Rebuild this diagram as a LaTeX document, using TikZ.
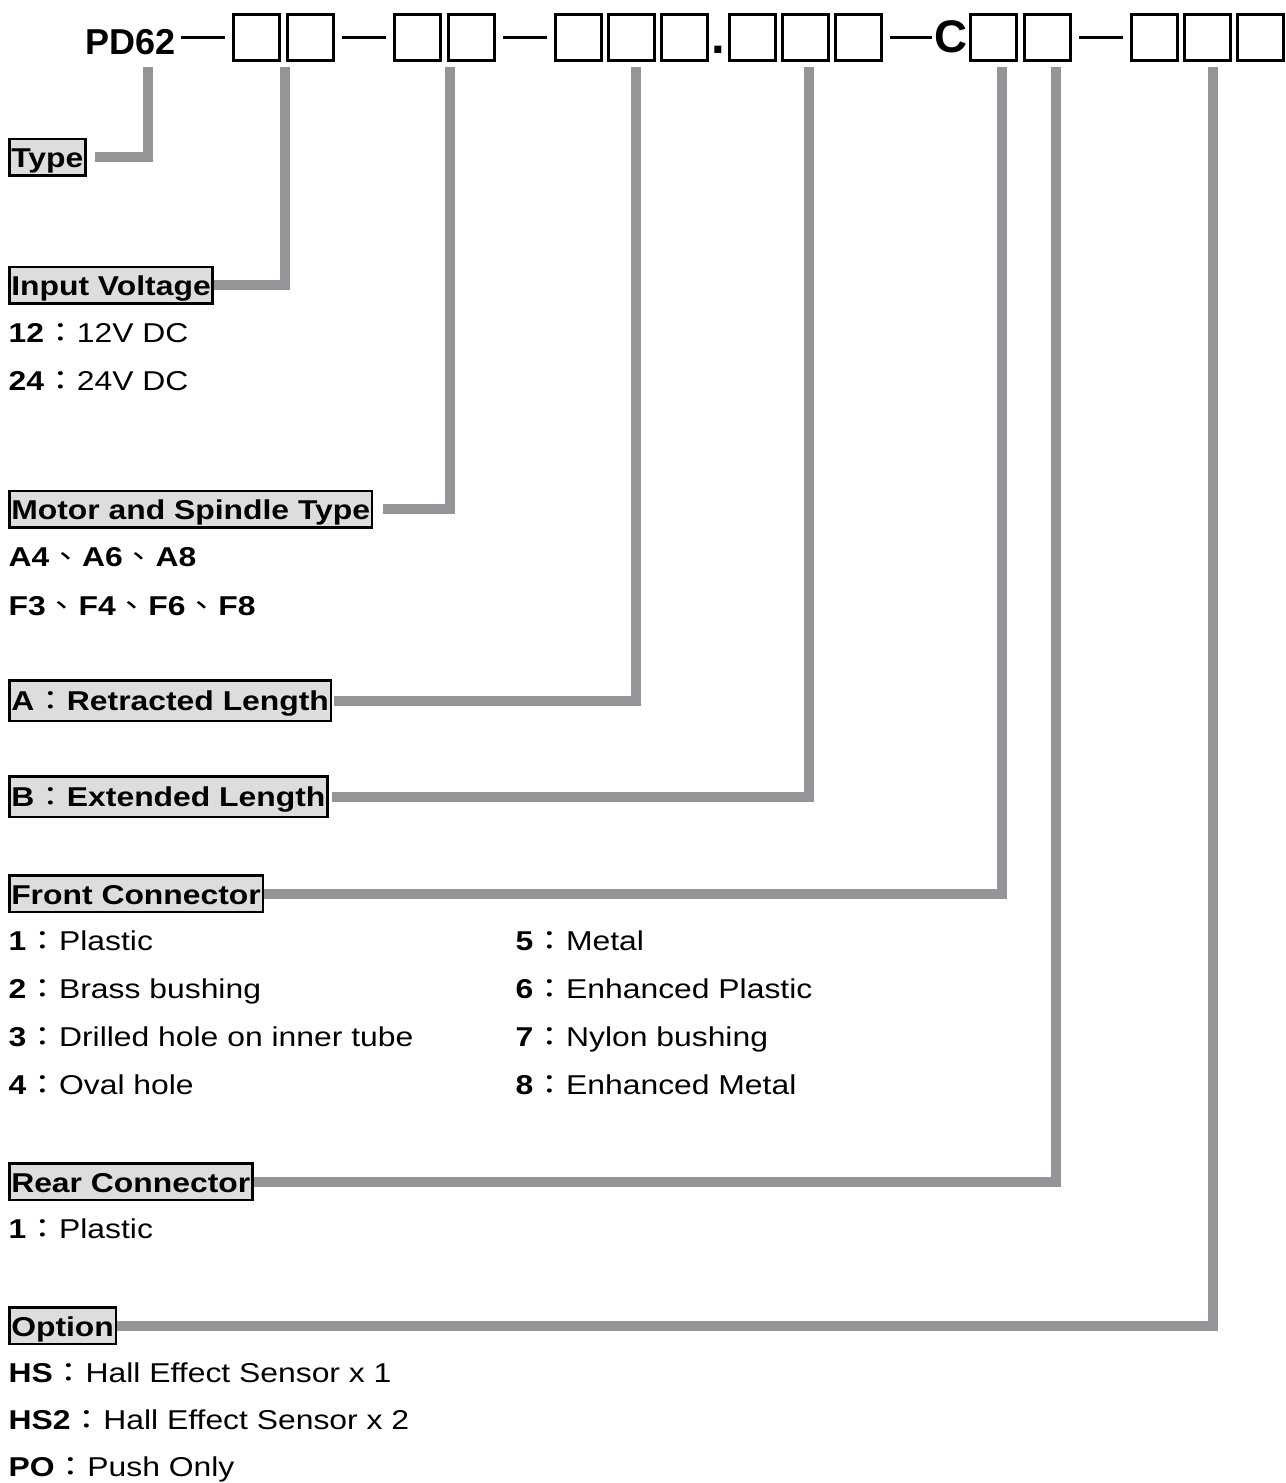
\documentclass[tikz,border=0pt]{standalone}
\usepackage{fontspec}
\setmainfont{Liberation Sans}[FakeStretch=1.17]
\newfontfamily\hdrfont{Liberation Sans}
\newfontfamily\cjk{Noto Sans CJK TC}[FakeStretch=1.2]
\definecolor{leadgray}{HTML}{939598}
\definecolor{boxgray}{HTML}{DCDDDE}
\newcommand{\codeitem}[2]{\textbf{#1}{\mdseries\cjk ：}#2}
\newcommand{\sepmark}{{\mdseries\cjk 、}}
\newcommand{\colonmark}{{\mdseries\cjk ：}}

\begin{document}
\begin{tikzpicture}[x=0.1mm,y=-0.1mm,
  digit/.style={draw,line width=0.3mm,minimum size=4.6mm,inner sep=0pt},
  codedash/.style={line width=0.35mm,shorten <=0.7mm,shorten >=0.7mm},
  leader/.style={draw=leadgray,line width=1mm},
  labelbox/.style={draw,line width=0.25mm,fill=boxgray,inner xsep=0.2mm,inner ysep=0pt,
    text height=2.875mm,text depth=0.775mm,anchor=base west,
    font=\fontsize{7.75pt}{9pt}\selectfont\bfseries},
  itemtext/.style={inner sep=0pt,anchor=base west,font=\fontsize{7.75pt}{9pt}\selectfont}]
\newcommand{\boxy}{37.5}
\newcommand{\leadtop}{67}
\useasboundingbox (0,0) rectangle (1285,1483);

\node[inner sep=0pt,anchor=base west,font=\hdrfont\bfseries\fontsize{10.25pt}{12pt}\selectfont] (pd) at (85,55) {PD62};
\node[digit] (b1) at (256.5,\boxy) {};
\node[digit] (b2) at (310.5,\boxy) {};
\node[digit] (b3) at (417.5,\boxy) {};
\node[digit] (b4) at (471.5,\boxy) {};
\node[digit] (b5) at (578.5,\boxy) {};
\node[digit] (b6) at (631.5,\boxy) {};
\node[digit] (b7) at (684.5,\boxy) {};
\node[inner sep=0pt,anchor=base,font=\hdrfont\bfseries\fontsize{14pt}{14pt}\selectfont] (dot) at (718,54) {.};
\node[digit] (b8) at (752.5,\boxy) {};
\node[digit] (b9) at (805.5,\boxy) {};
\node[digit] (b10) at (858.5,\boxy) {};
\node[inner sep=0pt,anchor=base east,font=\hdrfont\bfseries\fontsize{13pt}{13pt}\selectfont] (cc) at (968,53) {C};
\node[digit] (b11) at (993.5,\boxy) {};
\node[digit] (b12) at (1047.5,\boxy) {};
\node[digit] (b13) at (1154.5,\boxy) {};
\node[digit] (b14) at (1207.5,\boxy) {};
\node[digit] (b15) at (1260.5,\boxy) {};

\draw[codedash,shorten <=0.4mm] (pd.east |- b1) -- (b1);
\draw[codedash] (b2) -- (b3);
\draw[codedash] (b4) -- (b5);
\draw[codedash,shorten >=0.2mm] (b10) -- (b10 -| cc.west);
\draw[codedash] (b12) -- (b13);

\coordinate (ttype) at (148,\leadtop);
\coordinate (tvolt) at (285,\leadtop);
\coordinate (tmotor) at (450,\leadtop);
\coordinate (tlena) at (636,\leadtop);
\coordinate (tlenb) at (809,\leadtop);
\coordinate (tfront) at (1002,\leadtop);
\coordinate (trear) at (1056,\leadtop);
\coordinate (topt) at (1213,\leadtop);

\node[labelbox] (type) at (8,168) {Type};
\node[labelbox] (volt) at (8,296) {Input Voltage};
\node[itemtext] (volt12) at (8,343) {\codeitem{12}{12V DC}};
\node[itemtext] (volt24) at (8,391) {\codeitem{24}{24V DC}};
\node[labelbox] (motor) at (8,520) {Motor and Spindle Type};
\node[itemtext] (motora) at (8,567) {\bfseries A4\sepmark A6\sepmark A8};
\node[itemtext] (motorf) at (8,615) {\bfseries F3\sepmark F4\sepmark F6\sepmark F8};
\node[labelbox,text height=2.95mm,text depth=1.1mm] (lena) at (8,710) {A\colonmark Retracted Length};
\node[labelbox,text height=2.95mm,text depth=1.1mm] (lenb) at (8,806) {B\colonmark Extended Length};
\node[labelbox] (front) at (8,904) {Front Connector};
\node[itemtext] (front1) at (8,950) {\codeitem{1}{Plastic}};
\node[itemtext] (front2) at (8,998) {\codeitem{2}{Brass bushing}};
\node[itemtext] (front3) at (8,1046) {\codeitem{3}{Drilled hole on inner tube}};
\node[itemtext] (front4) at (8,1094) {\codeitem{4}{Oval hole}};
\node[itemtext] (front5) at (515,950) {\codeitem{5}{Metal}};
\node[itemtext] (front6) at (515,998) {\codeitem{6}{Enhanced Plastic}};
\node[itemtext] (front7) at (515,1046) {\codeitem{7}{Nylon bushing}};
\node[itemtext] (front8) at (515,1094) {\codeitem{8}{Enhanced Metal}};
\node[labelbox] (rear) at (8,1192) {Rear Connector};
\node[itemtext] (rear1) at (8,1238) {\codeitem{1}{Plastic}};
\node[labelbox] (opt) at (8,1336) {Option};
\node[itemtext] (opths) at (8,1382) {\codeitem{HS}{Hall Effect Sensor x 1}};
\node[itemtext] (opths2) at (8,1429) {\codeitem{HS2}{Hall Effect Sensor x 2}};
\node[itemtext] (optpo) at (8,1476) {\codeitem{PO}{Push Only}};

\draw[leader,shorten >=0.8mm] (ttype) |- (type.east);
\draw[leader] (tvolt) |- (volt.east);
\draw[leader,shorten >=1mm] (tmotor) |- (motor.east);
\draw[leader,shorten >=0.2mm] (tlena) |- (lena.east);
\draw[leader,shorten >=0.3mm] (tlenb) |- (lenb.east);
\draw[leader] (tfront) |- (front.east);
\draw[leader] (trear) |- (rear.east);
\draw[leader] (topt) |- (opt.east);
\end{tikzpicture}
\end{document}
